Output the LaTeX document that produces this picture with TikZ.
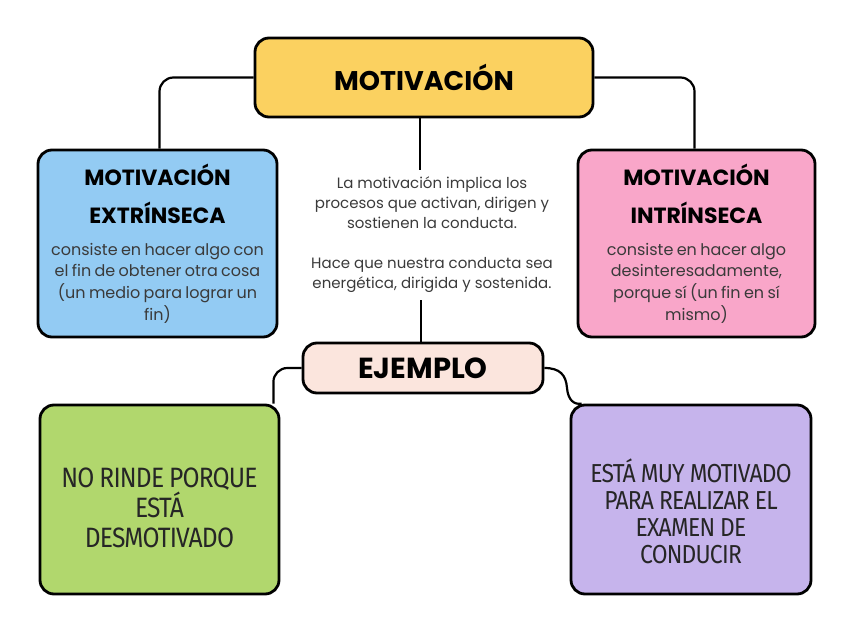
\documentclass[tikz,border=0pt]{standalone}
\usepackage{fontspec}
\setmainfont{Poppins}
\newfontfamily\headfont{Poppins}
\newfontfamily\capsfont{Fira Sans}[FakeStretch=0.88, LetterSpace=-3]
\usetikzlibrary{positioning}

\definecolor{cYellow}{HTML}{FBD160}
\definecolor{cBlue}{HTML}{93CBF3}
\definecolor{cPink}{HTML}{F9A6C9}
\definecolor{cPeach}{HTML}{FBE5DD}
\definecolor{cGreen}{HTML}{B1D76D}
\definecolor{cPurple}{HTML}{C6B4EC}
\definecolor{cText}{HTML}{3A3A3A}

\tikzset{
  box/.style={draw=black, line width=2.8pt, rounded corners=14pt, align=center, inner sep=0pt},
  conn/.style={draw=black, line width=2.2pt, rounded corners=14pt},
}
\newcommand{\boxhead}[1]{{\headfont\bfseries\fontsize{22}{38}\selectfont #1\par}}
\newcommand{\boxbody}[1]{{\color{cText}\fontsize{16}{21.7}\selectfont #1\par}}

\begin{document}
\begin{tikzpicture}[x=1pt,y=-1pt]
      \useasboundingbox (0,0) rectangle (848,636);
      % main boxes
      \node[box, fill=cYellow, minimum width=338pt, minimum height=79pt,
        font=\headfont\bfseries\fontsize{27}{30}\selectfont] (mot) at (424,77.5) {MOTIVACIÓN};
      \node[box, fill=cBlue, minimum width=239pt, minimum height=187pt, text width=235pt] (ext) at (157.5,243.5)
        {\boxhead{MOTIVACIÓN\\EXTRÍNSECA}\vspace{10pt}
         \boxbody{consiste en hacer algo con\\el fin de obtener otra cosa\\(un medio para lograr un\\fin)}};
      \node[box, fill=cPink, minimum width=237pt, minimum height=187pt, text width=230pt] (int) at (696.5,243.5)
        {\boxhead{MOTIVACIÓN\\INTRÍNSECA}\vspace{10pt}
         \boxbody{consiste en hacer algo\\desinteresadamente,\\porque sí (un fin en sí\\mismo)}};
      \node[align=center, text=cText, inner sep=7pt, font=\fontsize{15}{20}\selectfont] (desc) at (432,235)
        {La motivación implica los\\procesos que activan, dirigen y\\sostienen la conducta.\\[20pt]
         Hace que nuestra conducta sea\\energética, dirigida y sostenida.};
      \node[box, fill=cPeach, minimum width=240pt, minimum height=50pt,
        font=\headfont\bfseries\fontsize{29}{32}\selectfont] (ej) at (423,368) {EJEMPLO};
      \node[box, fill=cGreen, minimum width=239pt, minimum height=189pt, text width=235pt,
        font=\capsfont\fontsize{28}{30}\selectfont, text=black!85] (no) at (159.5,499.5)
        {\spaceskip=5pt\relax\rule{0pt}{36pt}NO RINDE PORQUE\\ESTÁ\\DESMOTIVADO};
      \node[box, fill=cPurple, minimum width=240pt, minimum height=189pt, text width=235pt,
        font=\capsfont\fontsize{26}{27}\selectfont, text=black!85] (si) at (691,499.5)
        {\spaceskip=5pt\relax\rule{0pt}{48pt}ESTÁ MUY MOTIVADO\\PARA REALIZAR EL\\EXAMEN DE\\CONDUCIR};
      % connectors
      \draw[conn] (mot.west) -| ([xshift=2pt]ext.north);
      \draw[conn] (mot.east) -| ([xshift=-2pt]int.north);
      \draw[conn] ([xshift=-4pt]mot.south) -- ([xshift=-4pt]mot.south |- desc.north);
      \draw[conn] ([xshift=-2pt]ej.north |- desc.south) -- ([xshift=-2pt]ej.north);
      \draw[conn] (ej.west) -| ([xshift=-7pt]no.north east);
      \draw[line width=2.2pt] (ej.east) .. controls (560,368) and (566,375) .. (567,388)
        .. controls (568,400) and (574,405) .. ([xshift=12pt]si.north west);
    \end{tikzpicture}
\end{document}
